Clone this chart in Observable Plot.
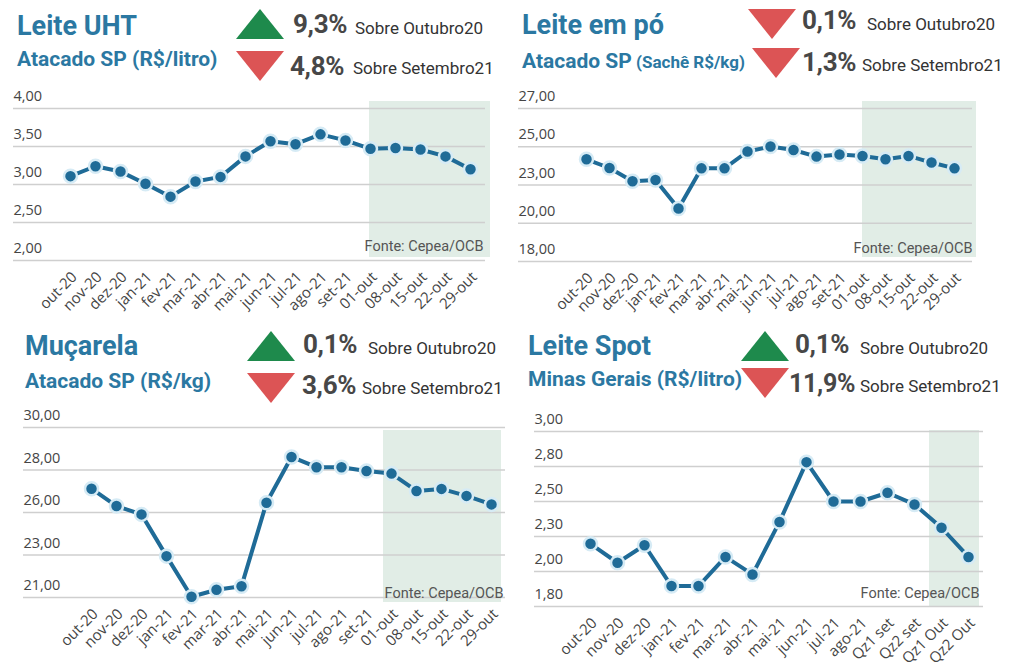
<!DOCTYPE html>
<html>
<head>
<meta charset="utf-8">
<script src="https://cdn.jsdelivr.net/npm/d3@7"></script>
<script src="https://cdn.jsdelivr.net/npm/@observablehq/plot@0.6"></script>
<style>
  html, body { margin: 0; padding: 0; background: #fff; }
  #page { position: relative; width: 1019px; height: 670px; overflow: hidden; font-family: Roboto, sans-serif; }
  .abs { position: absolute; white-space: nowrap; line-height: 1; }
  .title { font-weight: 700; color: #2b78a2; }
  .sub { font-weight: 700; color: #2b78a2; }
  .pct { font-weight: 700; color: #474747; letter-spacing: -0.3px; }
  .sobre { color: #333; }
  .tri { position: absolute; width: 0; height: 0; }
  .chart { position: absolute; }
  .chart svg { overflow: visible; }
  .chart svg g[aria-label="x-axis tick label"] { font-size: 15px !important; }
  .chart svg g[aria-label="x-axis tick label"] text { font-size: 15px !important; }
</style>
</head>
<body>
<div id="page"></div>
<script>
// ---------------- DATA ----------------
const monthsWeekly = ["out-20","nov-20","dez-20","jan-21","fev-21","mar-21","abr-21","mai-21","jun-21","jul-21","ago-21","set-21","01-out","08-out","15-out","22-out","29-out"];
const monthsSpot = ["out-20","nov-20","dez-20","jan-21","fev-21","mar-21","abr-21","mai-21","jun-21","jul-21","ago-21","Qz1 set","Qz2 set","Qz1 Out","Qz2 Out"];

const uhtValues  = [3.11,3.24,3.17,3.01,2.84,3.04,3.10,3.37,3.57,3.53,3.66,3.58,3.47,3.48,3.46,3.37,3.20];
const poValues   = [24.01,23.50,22.72,22.79,21.12,23.48,23.48,24.47,24.76,24.56,24.17,24.29,24.21,24.01,24.21,23.82,23.48];
const mucValues  = [26.76,25.84,25.40,23.19,21.04,21.41,21.60,26.02,28.44,27.90,27.90,27.70,27.56,26.64,26.75,26.38,25.93];
const spotValues = [2.23,2.10,2.22,1.94,1.94,2.14,2.02,2.38,2.79,2.52,2.52,2.58,2.50,2.34,2.14];

const uhtTicks = [2, 2.5, 3, 3.5, 4];
const uhtTickLabels = ["2,00","2,50","3,00","3,50","4,00"];
const poTicks = [18, 20.25, 22.5, 24.75, 27];
const poTickLabels = ["18,00","20,00","23,00","25,00","27,00"];
const mucTicks = [21, 23.25, 25.5, 27.75, 30];
const mucTickLabels = ["21,00","23,00","26,00","28,00","30,00"];
const spotTicks = [1.8, 2.04, 2.28, 2.52, 2.76, 3.0];
const spotTickLabels = ["1,80","2,00","2,30","2,50","2,80","3,00"];

const titles = ["Leite UHT","Leite em pó","Muçarela","Leite Spot"];
const subtitles = ["Atacado SP (R$/litro)","Atacado SP","Atacado SP (R$/kg)","Minas Gerais (R$/litro)"];
const subtitleExtra = ["","(Sachê R$/kg)","",""];
const pctOutubro = ["9,3%","0,1%","0,1%","0,1%"];
const dirOutubro = ["up","down","up","up"];
const pctSetembro = ["4,8%","1,3%","3,6%","11,9%"];
const dirSetembro = ["down","down","down","down"];
const labelOutubro = "Sobre Outubro20";
const labelSetembro = "Sobre Setembro21";
const sourceText = "Fonte: Cepea/OCB";
const shadeFrom = ["01-out","01-out","01-out","Qz1 Out"];
const shadeTo = ["29-out","29-out","29-out","Qz2 Out"];

// ---------------- LAYOUT ----------------
const page = document.getElementById("page");
const BL = 0.842; // baseline offset factor (line-height:1)

function textAt(txt, cls, x, base, fs, extraStyle) {
  const s = document.createElement("span");
  s.className = "abs " + cls;
  s.textContent = txt;
  s.style.left = x + "px";
  s.style.top = (base - BL * fs) + "px";
  s.style.fontSize = fs + "px";
  if (extraStyle) Object.assign(s.style, extraStyle);
  page.appendChild(s);
  return s;
}
function tri(dir, x, y) {
  const d = document.createElement("div");
  d.className = "tri";
  d.style.left = x + "px";
  d.style.top = y + "px";
  d.style.borderLeft = "24.5px solid transparent";
  d.style.borderRight = "24.5px solid transparent";
  if (dir === "up") d.style.borderBottom = "30px solid #1e8a4c";
  else d.style.borderTop = "30px solid #dc5455";
  page.appendChild(d);
}

const headers = [
  {title:[17,36], sub:[17,67], t1:[236,9], p1:[293,33], s1:[355,34], t2:[236,51], p2:[290,75], s2:[353,74]},
  {title:[522,35], sub:[522,69], t1:[748,9], p1:[802,29], s1:[867,30], t2:[752,48], p2:[802,71], s2:[862,71]},
  {title:[25,356], sub:[25,389], t1:[247,331], p1:[303,353], s1:[368,354], t2:[247,373], p2:[302,394], s2:[362,394]},
  {title:[528,356], sub:[528,387], t1:[741,331], p1:[795,353], s1:[860,354], t2:[741,368], p2:[789,392], s2:[860,392]}
];

headers.forEach((h, i) => {
  textAt(titles[i], "title", h.title[0], h.title[1], 27);
  const sub = textAt(subtitles[i], "sub", h.sub[0], h.sub[1], 21);
  if (subtitleExtra[i]) {
    const e = document.createElement("span");
    e.textContent = " " + subtitleExtra[i];
    e.style.fontSize = "17px";
    sub.appendChild(e);
  }
  tri(dirOutubro[i], h.t1[0], h.t1[1]);
  textAt(pctOutubro[i], "pct", h.p1[0], h.p1[1], 26);
  textAt(labelOutubro, "sobre", h.s1[0], h.s1[1], 17);
  tri(dirSetembro[i], h.t2[0], h.t2[1]);
  textAt(pctSetembro[i], "pct", h.p2[0], h.p2[1], pctSetembro[i].length > 4 ? 25 : 26);
  textAt(labelSetembro, "sobre", h.s2[0], h.s2[1], 17);
});

const LINE = "#1f6b97";
const HALO = "#d6ebf5";
const SHADE = "#e1ede6";
const GRID = "#cfcfcf";

function chart(cfg, cats, values, ticks, tickLabels, sFrom, sTo) {
  const data = cats.map((c, i) => ({c, v: values[i]}));
  const plot = Plot.plot({
    width: cfg.w, height: cfg.h,
    marginTop: cfg.mt, marginBottom: cfg.mb, marginLeft: cfg.ml, marginRight: cfg.mr,
    style: {fontFamily: "'Open Sans', sans-serif", fontSize: "14px", color: "#454545", background: "transparent", overflow: "visible"},
    x: {type: "point", domain: cats, padding: 0, insetLeft: cfg.il, insetRight: cfg.ir},
    y: {domain: [ticks[0], ticks[ticks.length - 1]]},
    marks: [
      Plot.rect([0], {x1: () => sFrom, x2: () => sTo, fill: SHADE,
        insetLeft: cfg.sl, insetRight: cfg.sr, insetTop: cfg.st, insetBottom: cfg.sb}),
      Plot.gridY(ticks, {stroke: GRID, strokeOpacity: 1, strokeWidth: 1.5}),
      Plot.axisY(ticks, {label: null, tickSize: 0, tickPadding: 0, textAnchor: "start", dy: -12,
        tickFormat: d => tickLabels[ticks.indexOf(d)], fontSize: 14.5}),
      Plot.axisX({label: null, tickSize: 0, tickRotate: -45, tickPadding: cfg.xp, dx: 4, fontSize: 15}),
      Plot.text([sourceText], {frameAnchor: "bottom-right", dx: cfg.fdx, dy: cfg.fdy,
        fontFamily: "Roboto, sans-serif", fontSize: 14.5, fill: "#555", textAnchor: "end"}),
      Plot.line(data, {x: "c", y: "v", stroke: LINE, strokeWidth: 4}),
      Plot.dot(data, {x: "c", y: "v", r: 6.5, fill: LINE, stroke: HALO, strokeWidth: 2.5})
    ]
  });
  const wrap = document.createElement("div");
  wrap.className = "chart";
  wrap.style.left = cfg.left + "px";
  wrap.style.top = cfg.top + "px";
  wrap.appendChild(plot);
  page.appendChild(wrap);
}

chart({left: 0, top: 90, w: 500, h: 230, mt: 18, mb: 60, ml: 13, mr: 15, il: 53, ir: 12,
       sl: -1, sr: -20, st: -7, sb: 3, fdx: -2, fdy: -10, xp: 14},
      monthsWeekly, uhtValues, uhtTicks, uhtTickLabels, shadeFrom[0], shadeTo[0]);
chart({left: 500, top: 90, w: 519, h: 230, mt: 18, mb: 59, ml: 18, mr: 47, il: 62, ir: 12,
       sl: 0, sr: -22, st: -7, sb: 4, fdx: 0, fdy: -9, xp: 14},
      monthsWeekly, poValues, poTicks, poTickLabels, shadeFrom[1], shadeTo[1]);
chart({left: 0, top: 400, w: 510, h: 270, mt: 27, mb: 73, ml: 23, mr: 5, il: 63, ir: 10,
       sl: -8, sr: -10, st: 3, sb: -5, fdx: -2, fdy: 0, xp: 14},
      monthsWeekly, mucValues, mucTicks, mucTickLabels, shadeFrom[2], shadeTo[2]);
chart({left: 510, top: 400, w: 509, h: 270, mt: 31, mb: 64, ml: 24, mr: 36, il: 54, ir: 13,
       sl: -12, sr: -11, st: -1, sb: -1, fdx: -4, fdy: -9, xp: 14},
      monthsSpot, spotValues, spotTicks, spotTickLabels, shadeFrom[3], shadeTo[3]);
</script>
</body>
</html>
